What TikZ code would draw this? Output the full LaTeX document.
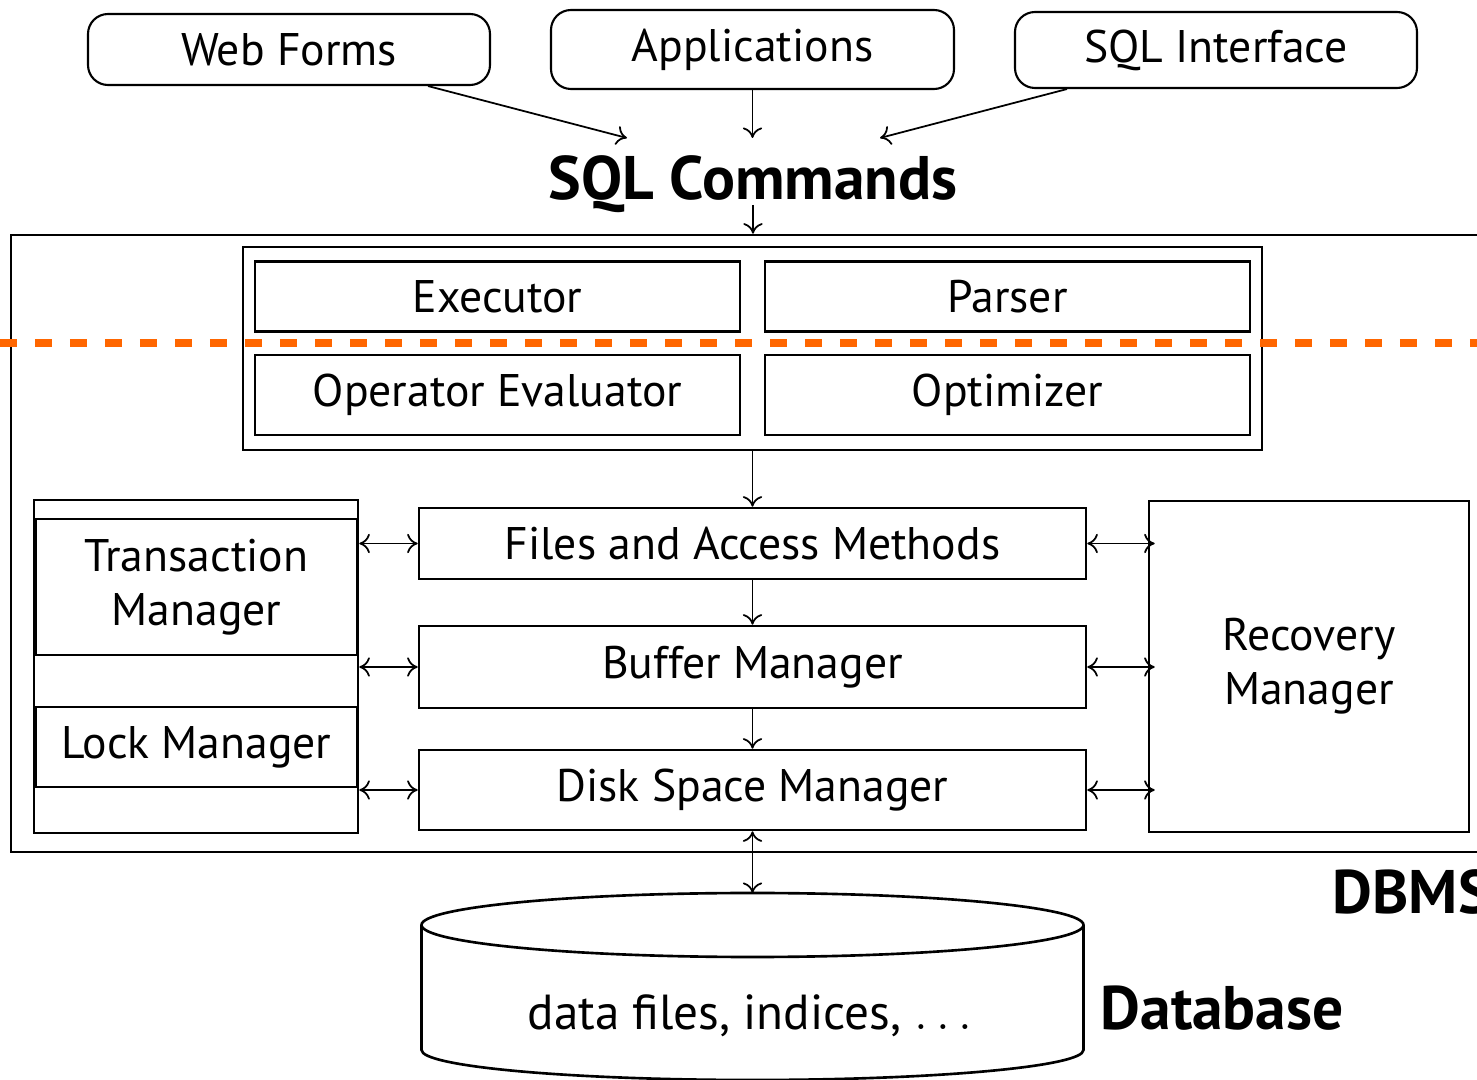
\documentclass[tikz,border=0pt]{standalone}
\usepackage{fontspec}
\setmainfont{PT Sans}
\usepackage{tikz}
\usetikzlibrary{arrows.meta}

\definecolor{dashorange}{RGB}{255,102,0}

\begin{document}
\begin{tikzpicture}[
        font=\fontsize{13}{15.3}\selectfont,
        >={To[length=3pt, width=5.5pt]},
        client/.style={draw, line width=0.6pt, rounded corners=0.2cm, inner sep=0pt},
        layer/.style={draw, line width=0.75pt, inner sep=0pt},
        heading/.style={font=\fontsize{17.5}{20}\selectfont\bfseries, inner sep=0pt},
        link/.style={line width=0.5pt}
    ]
        \useasboundingbox (0, 0) rectangle (14.77, -10.80);

        \node[client, minimum width=4.02cm, minimum height=0.71cm] (webforms) at (2.89, -0.495) {Web Forms};
        \node[client, minimum width=4.03cm, minimum height=0.79cm] (apps) at (7.525, -0.495) {Applications};
        \node[client, minimum width=4.02cm, minimum height=0.76cm] (sqlif) at (12.16, -0.50) {SQL Interface};

        \node[heading, anchor=base] (sqlcmd) at (7.53, -2.00) {SQL Commands};
        \coordinate (cmdleft) at (6.27, -1.38);
        \coordinate (cmdright) at (8.80, -1.38);

        \draw[link, ->] ([xshift=1.39cm]webforms.south) -- (cmdleft);
        \draw[link, ->] (apps.south) -- (apps.south |- cmdleft);
        \draw[link, ->] ([xshift=-1.49cm]sqlif.south) -- (cmdright);

        % DBMS
        \node[layer, minimum width=15.89cm, minimum height=6.17cm] (dbms) at (8.055, -5.435) {};
        \draw[link, ->] ([yshift=-0.05cm]sqlcmd.base) -- (sqlcmd.base |- dbms.north);

        \node[layer, minimum width=10.19cm, minimum height=2.03cm] (engine) at (7.525, -3.485) {};
        \node[layer, minimum width=4.85cm, minimum height=0.70cm] (executor) at (4.975, -2.965) {Executor};
        \node[layer, minimum width=4.85cm, minimum height=0.70cm] (parser) at (10.075, -2.965) {Parser};
        \node[layer, minimum width=4.85cm, minimum height=0.80cm] (opeval) at (4.975, -3.95) {Operator Evaluator};
        \node[layer, minimum width=4.85cm, minimum height=0.80cm] (optimizer) at (10.075, -3.95) {Optimizer};

        \node[layer, minimum width=6.67cm, minimum height=0.71cm] (files) at (7.525, -5.435) {Files and Access Methods};
        \node[layer, minimum width=6.67cm, minimum height=0.82cm] (buffer) at (7.525, -6.67) {Buffer Manager};
        \node[layer, minimum width=6.67cm, minimum height=0.80cm] (disk) at (7.525, -7.90) {Disk Space Manager};

        \draw[link, ->] (engine.south) -- (files.north);
        \draw[link, ->] (files.south) -- (buffer.north);
        \draw[link, ->] (buffer.south) -- (disk.north);

        \node[layer, minimum width=3.24cm, minimum height=3.33cm] (ccgroup) at (1.96, -6.665) {};
        \node[layer, minimum width=3.21cm, minimum height=1.36cm, align=center] (txnmgr) at (1.965, -5.87) {Transaction\\Manager};
        \node[layer, minimum width=3.21cm, minimum height=0.80cm] (lockmgr) at (1.965, -7.47) {Lock Manager};
        \node[layer, minimum width=3.20cm, minimum height=3.31cm, align=center] (recovery) at (13.09, -6.665) {Recovery\\Manager};

        \draw[link, <->] (ccgroup.east |- files.west) -- (files.west);
        \draw[link, <->] (ccgroup.east |- buffer.west) -- (buffer.west);
        \draw[link, <->] (ccgroup.east |- disk.west) -- (disk.west);
        \draw[link, <->] (files.east) -- ([xshift=0.07cm]recovery.west |- files.east);
        \draw[link, <->] (buffer.east) -- ([xshift=0.07cm]recovery.west |- buffer.east);
        \draw[link, <->] (disk.east) -- ([xshift=0.07cm]recovery.west |- disk.east);

        \node[heading, anchor=base west] (dbmslabel) at (13.32, -9.13) {DBMS};

        % database cylinder
        \coordinate (dbtop) at (7.525, -8.93);
        \draw[layer] (7.525, -9.25) ellipse (3.31cm and 0.32cm);
        \draw[layer] (4.215, -9.25) -- (4.215, -10.50) arc (180:360:3.31cm and 0.30cm) -- (10.835, -9.25);
        \draw[link, <->] (disk.south) -- (dbtop);

        \node[anchor=base, font=\fontsize{14}{16}\selectfont] (dbfiles) at (7.50, -10.30) {data files, indices, $\ldots$};
        \node[heading, anchor=base west] (dblabel) at (11.00, -10.30) {Database};

        \draw[dashorange, line width=2pt, dash pattern=on 0.17cm off 0.18cm] (0, -3.43) -- (14.77, -3.43);
    \end{tikzpicture}
\end{document}
